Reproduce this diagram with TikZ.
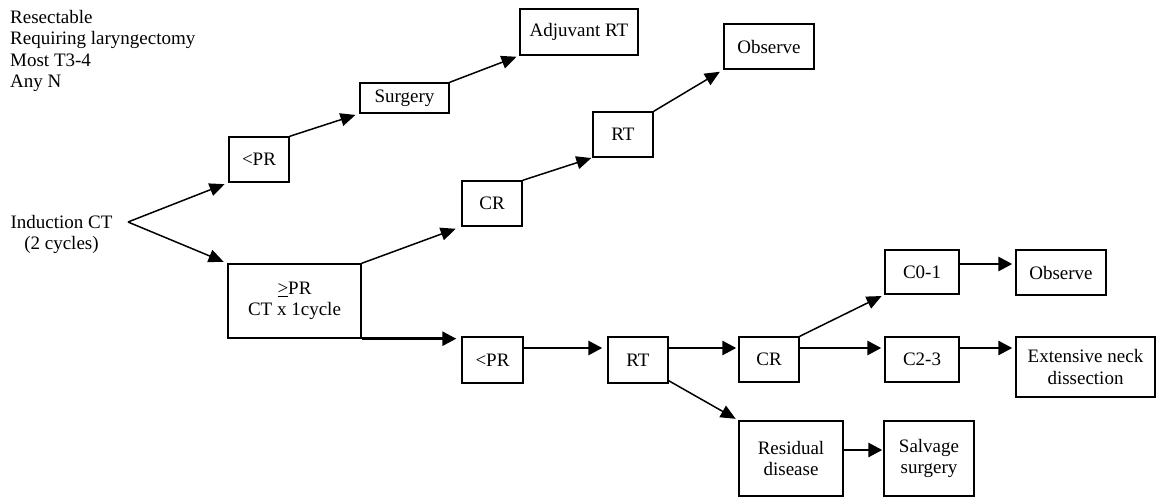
\documentclass[tikz,border=0pt]{standalone}
\usepackage{fontspec}
\setmainfont{Liberation Serif}
\usetikzlibrary{arrows.meta}
\begin{document}
\begin{tikzpicture}[x=1pt,y=-1pt,
  every node/.style={font=\fontsize{19}{21.5}\selectfont, inner sep=0pt},
  box/.style={draw, line width=1.4pt, align=center},
  thinarrow/.style={line width=1.5pt, -{Triangle[length=15pt,width=13pt]}, shorten >=4pt},
  thickarrow/.style={line width=2.8pt, -{Triangle[length=14pt,width=14pt]}},
]
\useasboundingbox (0,0) rectangle (1156,498);

% left texts
\node[anchor=north west, align=left] (cond) at (10,10.1)
  {Resectable\\Requiring laryngectomy\\Most T3-4\\Any N};
\node[anchor=north, align=center] (indtxt) at (61.5,215) {Induction CT\\(2 cycles)};
\coordinate (ind) at (128,222);

% boxes
\node[box, minimum width=118pt, minimum height=46pt] (adj) at (579,32) {Adjuvant RT};
\node[box, minimum width=89pt, minimum height=30pt] (surg) at (404.5,98) {Surgery};
\node[box, minimum width=90pt, minimum height=45pt] (obsA) at (769,46.5) {Observe};
\node[box, minimum width=60pt, minimum height=45pt] (prA) at (259,159.5) {<PR};
\node[box, minimum width=60pt, minimum height=45pt] (rtA) at (623,134.5) {RT};
\node[box, minimum width=60pt, minimum height=45pt] (crA) at (492,203.5) {CR};
\node[box, minimum width=133pt, minimum height=74pt] (gpr) at (294.5,301) {\underline{>}PR\\CT x 1cycle};
\node[box, minimum width=61pt, minimum height=46pt] (prB) at (492.5,360) {<PR};
\node[box, minimum width=60pt, minimum height=46pt] (rtB) at (638,360) {RT};
\node[box, minimum width=60pt, minimum height=45pt] (crB) at (769,359.5) {CR};
\node[box, minimum width=74pt, minimum height=44pt] (c01) at (922,272) {C0-1};
\node[box, minimum width=90pt, minimum height=45pt] (obsB) at (1061,272.5) {Observe};
\node[box, minimum width=74pt, minimum height=45pt] (c23) at (922,359.5) {C2-3};
\node[box, minimum width=139pt, minimum height=60pt] (ext) at (1085.5,367) {Extensive neck\\dissection};
\node[box, minimum width=104pt, minimum height=75pt] (res) at (791,458.5) {Residual\\disease};
\node[box, minimum width=90pt, minimum height=75pt] (salv) at (929,458.5) {Salvage\\surgery};

% row coordinates
\coordinate (rowA) at (0,348);
\coordinate (rowB) at (0,264);
\coordinate (rowC) at (0,450);

% diagonal arrows
\draw[thinarrow] (ind) -- (prA.south west);
\draw[thinarrow] (ind) -- (gpr.north west);
\draw[thinarrow] (prA.north east) -- (surg.south west);
\draw[thinarrow, shorten >=3pt] (surg.north east) -- (adj.south west);
\draw[thinarrow, shorten >=6pt] (gpr.north east) -- (crA.south west);
\draw[thinarrow, shorten >=1pt] (crA.north east) -- (rtA.south west);
\draw[thinarrow] (rtA.north east) -- (obsA.south west);
\draw[thinarrow, shorten >=3pt] ([yshift=3pt]rtB.south east) -- (res.north west);
\draw[thinarrow, shorten >=3pt] (crB.north east) -- (c01.south west);

% horizontal arrows
\draw[thickarrow, shorten >=5pt] (gpr.south east) -- (gpr.south east -| prB.west);
\draw[thickarrow, shorten >=5pt] (prB.east |- rowA) -- (rtB.west |- rowA);
\draw[thickarrow, shorten >=2pt] (rtB.east |- rowA) -- (crB.west |- rowA);
\draw[thickarrow, shorten >=3pt] (crB.east |- rowA) -- (c23.west |- rowA);
\draw[thickarrow, shorten >=3pt] (c23.east |- rowA) -- (ext.west |- rowA);
\draw[thickarrow, shorten >=3pt] (c01.east |- rowB) -- (obsB.west |- rowB);
\draw[thickarrow, shorten >=1pt] (res.east |- rowC) -- (salv.west |- rowC);
\end{tikzpicture}
\end{document}
